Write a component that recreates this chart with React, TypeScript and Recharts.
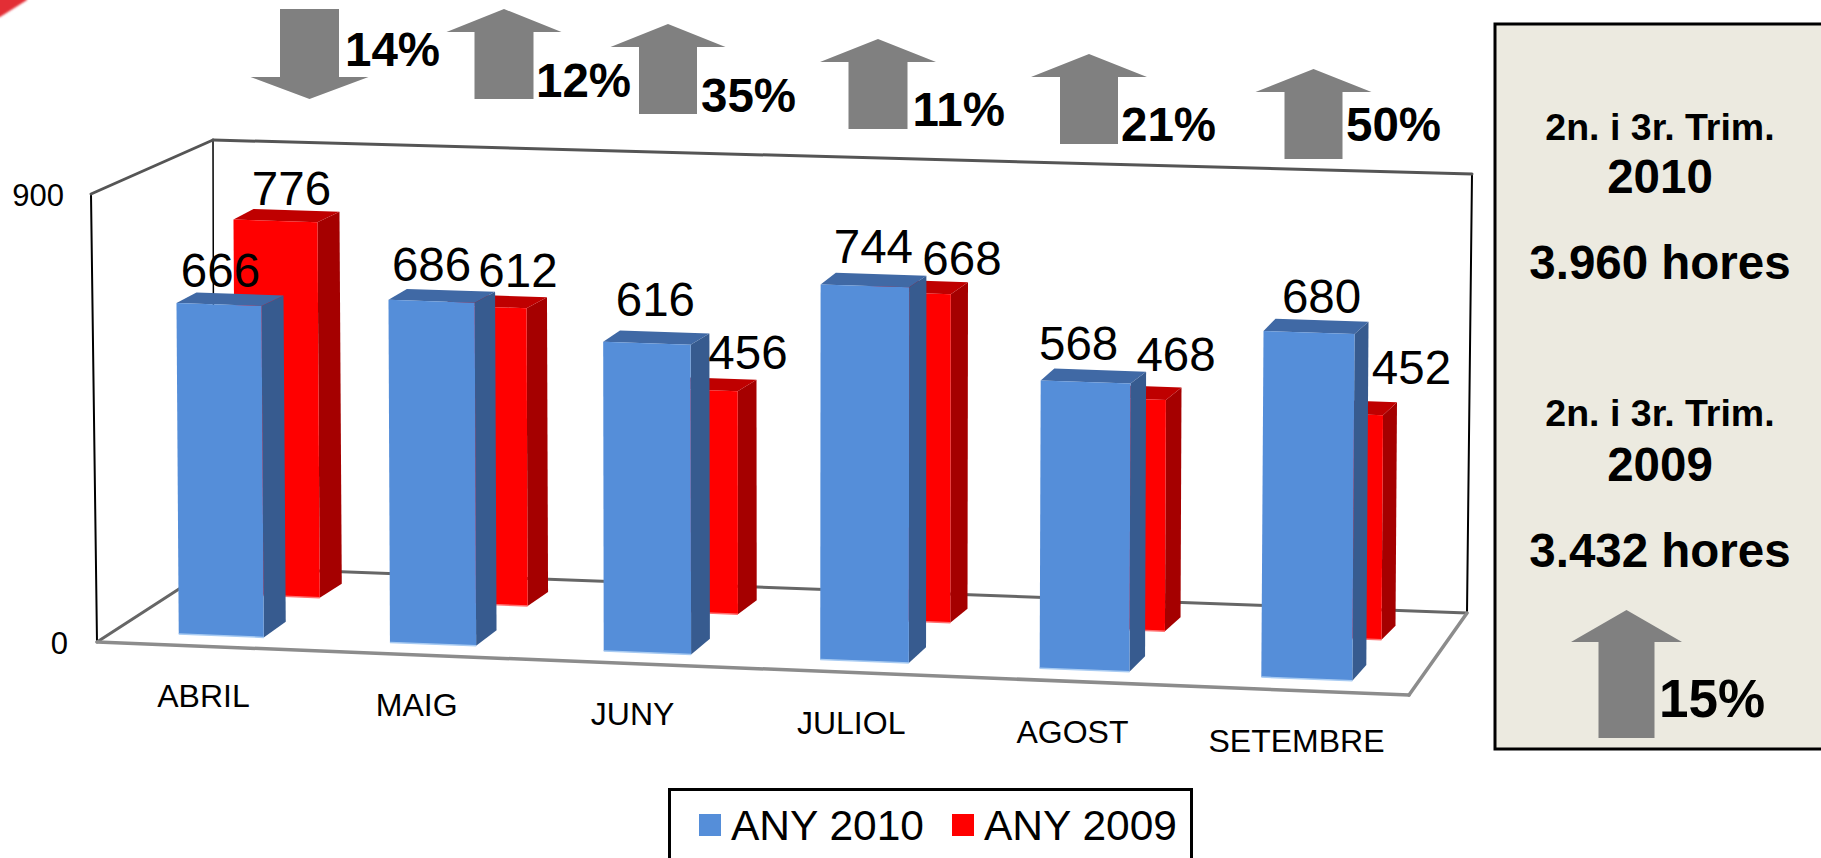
import React from 'react';
import { BarChart, Bar, XAxis, YAxis, Legend, LabelList } from 'recharts';

const months = ['ABRIL', 'MAIG', 'JUNY', 'JULIOL', 'AGOST', 'SETEMBRE'];
const hours2010 = [666, 686, 616, 744, 568, 680];
const hours2009 = [776, 612, 456, 668, 468, 452];
const yTicks = [0, 900];

const changeLabels = ['14%', '12%', '35%', '11%', '21%', '50%'];

const chartData = months.map((month, i) => ({
  month,
  any2010: hours2010[i],
  any2009: hours2009[i],
}));

const FONT = '"Liberation Sans", Arial, sans-serif';
const FIRST_CENTER = 218.5;
const BAND = 218;
const TILT = 0.0396;

// hand placed label offsets, the source slide has them moved around
const label2010Dx = [1.5, 0, 8.5, 8.5, -7, 12.5];
const label2010Dy = [6, 8, 15, 10, 9, 6];
const label2009Dx = [16, 34, 53.5, 55, 54.6, 73.5];
const label2009Dy = [4, 7, 8, 4, 13, 15];

const rows: any = {
  front: {
    shift: () => 0,
    rise: 0,
    scale: (t: number) => 0.994 + 0.0048 * t,
    width: (t: number) => 85 + 1.2 * t,
    depthX: (t: number) => 22 - 1.6 * t,
    topDy: (t: number) => -10.5 - 0.35 * t,
    bottomDy: -15.7,
    colors: { front: '#558ED9', side: '#375B8F', top: '#4069A5', edge: '#A8CBF2' },
  },
  back: {
    shift: (t: number) => 56.5 - 5.5 * t + 0.35 * t * (5 - t),
    rise: -42,
    scale: (t: number) => 0.966 + 0.0052 * t,
    width: (t: number) => 84 + 1.2 * t,
    depthX: (t: number) => 22 - 1.6 * t,
    topDy: (t: number) => -10.5 - 0.5 * t,
    bottomDy: -14,
    colors: { front: '#FF0000', side: '#A50000', top: '#BF0000', edge: '#FF7070' },
  },
};

const bandPos = (center: number) => (center - FIRST_CENTER) / BAND;
const squeezed = (t: number) => FIRST_CENTER + BAND * t - 1.35 * t * (5 - t);

// turns the flat rectangle from the scales into the corners of a tilted box
const projectBar = (x: number, y: number, width: number, height: number, rowName: string) => {
  const row = rows[rowName];
  const t = bandPos(x + width / 2);
  const w = row.width(t);
  const cx = squeezed(t) + row.shift(t);
  const h = height * row.scale(t);
  const left = cx - w / 2;
  const baseY = y + height + TILT * (left - 176) + row.rise;
  const topY = baseY - h;
  const lean = (left - 740) * 0.004 * (h / 330);
  const topSlope = 0.0404 - h * 0.00002;
  return { t, w, cx, left, baseY, topY, lean, topSlope, row };
};

const toPoints = (pts: number[][]) => pts.map((p) => p.join(',')).join(' ');

const makeBox = (rowName: string) => (props: any) => {
  const { x, y, width, height } = props;
  const { t, w, left, baseY, topY, lean, topSlope, row } = projectBar(x, y, width, height, rowName);
  const dx = row.depthX(t);
  const topDy = row.topDy(t);
  const tl = [left, topY];
  const tr = [left + w, topY + topSlope * w];
  const bl = [left - lean, baseY];
  const br = [left + w - lean, baseY + 0.04 * w];
  return (
    <g>
      <polygon
        points={toPoints([tr, [tr[0] + dx, tr[1] + topDy], [br[0] + dx, br[1] + row.bottomDy], br])}
        fill={row.colors.side}
      />
      <polygon
        points={toPoints([tl, [tl[0] + dx - 2, tl[1] + topDy], [tr[0] + dx, tr[1] + topDy], tr])}
        fill={row.colors.top}
      />
      <polygon points={toPoints([tl, tr, br, bl])} fill={row.colors.front} />
      <line x1={bl[0]} y1={bl[1]} x2={br[0]} y2={br[1]} stroke={row.colors.edge} strokeWidth={1.5} />
    </g>
  );
};

const makeValueLabel = (rowName: string, nudgeX: number[], nudgeY: number[]) => (props: any) => {
  const box = props.viewBox ?? props;
  const { index, value } = props;
  const { t, cx, topY, row } = projectBar(box.x, box.y, box.width, box.height, rowName);
  return (
    <text
      x={cx + nudgeX[index]}
      y={topY + row.topDy(t) - nudgeY[index]}
      textAnchor="middle"
      fontFamily={FONT}
      fontSize={47.5}
      fill="#000"
    >
      {value}
    </text>
  );
};

const MonthTick = (props: any) => {
  const { x, payload } = props;
  const t = bandPos(x);
  return (
    <text
      x={squeezed(t) - 15 + 0.6 * t}
      y={696 + 9 * t + 10.5}
      textAnchor="middle"
      fontFamily={FONT}
      fontSize={32}
      fill="#000"
    >
      {payload.value}
    </text>
  );
};

const ValueTick = (props: any) => {
  const { y, payload } = props;
  const k = (634 - y) / 450;
  return (
    <text x={68 - 4 * k} y={y + 19.5 + 2 * k} textAnchor="end" fontFamily={FONT} fontSize={31} fill="#000">
      {payload.value}
    </text>
  );
};

const legendItems = [
  { name: 'ANY 2010', color: '#558ED9', swatch: 31, text: 63 },
  { name: 'ANY 2009', color: '#FF0000', swatch: 284, text: 316 },
];

const renderLegend = () => (
  <div
    style={{
      position: 'absolute',
      left: 668,
      top: 788,
      width: 525,
      height: 90,
      border: '3px solid #000',
      boxSizing: 'border-box',
      background: '#fff',
      fontFamily: FONT,
      fontSize: 42.5,
      lineHeight: '48px',
      color: '#000',
    }}
  >
    {legendItems.map((item) => (
      <React.Fragment key={item.name}>
        <div style={{ position: 'absolute', left: item.swatch - 3, top: 23, width: 22, height: 22, background: item.color }} />
        <div style={{ position: 'absolute', left: item.text - 3, top: 11, whiteSpace: 'nowrap' }}>{item.name}</div>
      </React.Fragment>
    ))}
  </div>
);

// the grey box behind the bars
const Cage = () => (
  <svg width={1821} height={858} style={{ position: 'absolute', left: 0, top: 0 }}>
    <g fill="none" strokeLinecap="round">
      <line x1={91} y1={194} x2={97} y2={642} stroke="#000" strokeWidth={2} />
      <line x1={213} y1={140} x2={214} y2={567} stroke="#000" strokeWidth={1.5} />
      <line x1={1472} y1={174} x2={1467} y2={613} stroke="#000" strokeWidth={2} />
      <line x1={91} y1={194} x2={213} y2={140} stroke="#555" strokeWidth={3} />
      <line x1={213} y1={140} x2={1472} y2={174} stroke="#555" strokeWidth={3} />
      <line x1={97} y1={642} x2={213} y2={567} stroke="#666" strokeWidth={3} />
      <line x1={213} y1={567} x2={1467} y2={613} stroke="#666" strokeWidth={3} />
      <line x1={97} y1={642} x2={1409} y2={695} stroke="#8c8c8c" strokeWidth={3.5} />
      <line x1={1409} y1={695} x2={1467} y2={613} stroke="#8c8c8c" strokeWidth={3.5} />
    </g>
  </svg>
);

const upArrow = (apexX: number, apexY: number, shoulderY: number, halfHead: number, halfShaft: number, bottomY: number) =>
  toPoints([
    [apexX, apexY],
    [apexX + halfHead, shoulderY],
    [apexX + halfShaft, shoulderY],
    [apexX + halfShaft, bottomY],
    [apexX - halfShaft, bottomY],
    [apexX - halfShaft, shoulderY],
    [apexX - halfHead, shoulderY],
  ]);

const arrowShapes = [
  upArrow(309.5, 99, 77, 59, 29.5, 9),
  upArrow(504, 9, 32, 57.5, 29.5, 99),
  upArrow(668, 24, 47, 57.5, 29, 114),
  upArrow(878, 39, 62, 58, 29.5, 129),
  upArrow(1089, 54, 77, 58, 29, 144),
  upArrow(1313.5, 69, 92, 58, 29, 159),
];
const changeSpots = [
  [345, 66],
  [536, 97],
  [701, 112],
  [912.5, 126],
  [1121, 141],
  [1346, 141],
];

const Callouts = () => (
  <svg width={1821} height={858} style={{ position: 'absolute', left: 0, top: 0 }}>
    <defs>
      <filter id="soft" x="-50%" y="-50%" width="200%" height="200%">
        <feGaussianBlur stdDeviation="1" />
      </filter>
    </defs>
    <polygon points="-4,-4 27,-4 27,0 0,17 -4,17" fill="#E32D35" filter="url(#soft)" />
    {arrowShapes.map((pts, i) => (
      <g key={i}>
        <polygon points={pts} fill="#808080" />
        <text x={changeSpots[i][0]} y={changeSpots[i][1]} fontFamily={FONT} fontWeight="bold" fontSize={47.5} fill="#000">
          {changeLabels[i]}
        </text>
      </g>
    ))}
  </svg>
);

const panelLines = [
  { text: '2n. i 3r. Trim.', y: 140, size: 37.5 },
  { text: '2010', y: 193, size: 47.5 },
  { text: '3.960 hores', y: 279, size: 47.5 },
  { text: '2n. i 3r. Trim.', y: 426, size: 37.5 },
  { text: '2009', y: 481, size: 47.5 },
  { text: '3.432 hores', y: 567, size: 47.5 },
];

const SummaryPanel = () => (
  <svg width={1821} height={858} style={{ position: 'absolute', left: 0, top: 0 }}>
    <rect x={1495} y={24} width={340} height={725} fill="#ECEAE0" stroke="#000" strokeWidth={3} />
    {panelLines.map((line, i) => (
      <text key={i} x={1660} y={line.y} textAnchor="middle" fontFamily={FONT} fontWeight="bold" fontSize={line.size} fill="#000">
        {line.text}
      </text>
    ))}
    <polygon points={upArrow(1626.5, 610, 642, 55.5, 28, 738)} fill="#808080" />
    <text x={1659} y={717} fontFamily={FONT} fontWeight="bold" fontSize={53} fill="#000">
      15%
    </text>
  </svg>
);

export default function App() {
  return (
    <div style={{ position: 'absolute', left: 0, top: 0, width: 1821, height: 858, overflow: 'hidden', background: '#fff' }}>
      <Cage />
      <div style={{ position: 'absolute', left: 0, top: 0 }}>
        <BarChart
          width={1821}
          height={858}
          data={chartData}
          barSize={85}
          margin={{ top: 184, right: 403.5, bottom: 124, left: 0 }}
        >
          <XAxis
            xAxisId="front"
            dataKey="month"
            height={100}
            interval={0}
            axisLine={false}
            tickLine={false}
            tick={<MonthTick />}
          />
          <XAxis xAxisId="back" dataKey="month" hide />
          <YAxis width={109.5} domain={[0, 900]} ticks={yTicks} axisLine={false} tickLine={false} tick={<ValueTick />} />
          <Legend
            verticalAlign="bottom"
            content={renderLegend}
            wrapperStyle={{ left: 0, top: 0, bottom: 'auto', width: 0, height: 0 }}
          />
          <Bar xAxisId="back" dataKey="any2009" name="ANY 2009" fill="#FF0000" isAnimationActive={false} shape={makeBox('back')}>
            <LabelList dataKey="any2009" content={makeValueLabel('back', label2009Dx, label2009Dy)} />
          </Bar>
          <Bar xAxisId="front" dataKey="any2010" name="ANY 2010" fill="#558ED9" isAnimationActive={false} shape={makeBox('front')}>
            <LabelList dataKey="any2010" content={makeValueLabel('front', label2010Dx, label2010Dy)} />
          </Bar>
        </BarChart>
      </div>
      <Callouts />
      <SummaryPanel />
    </div>
  );
}
